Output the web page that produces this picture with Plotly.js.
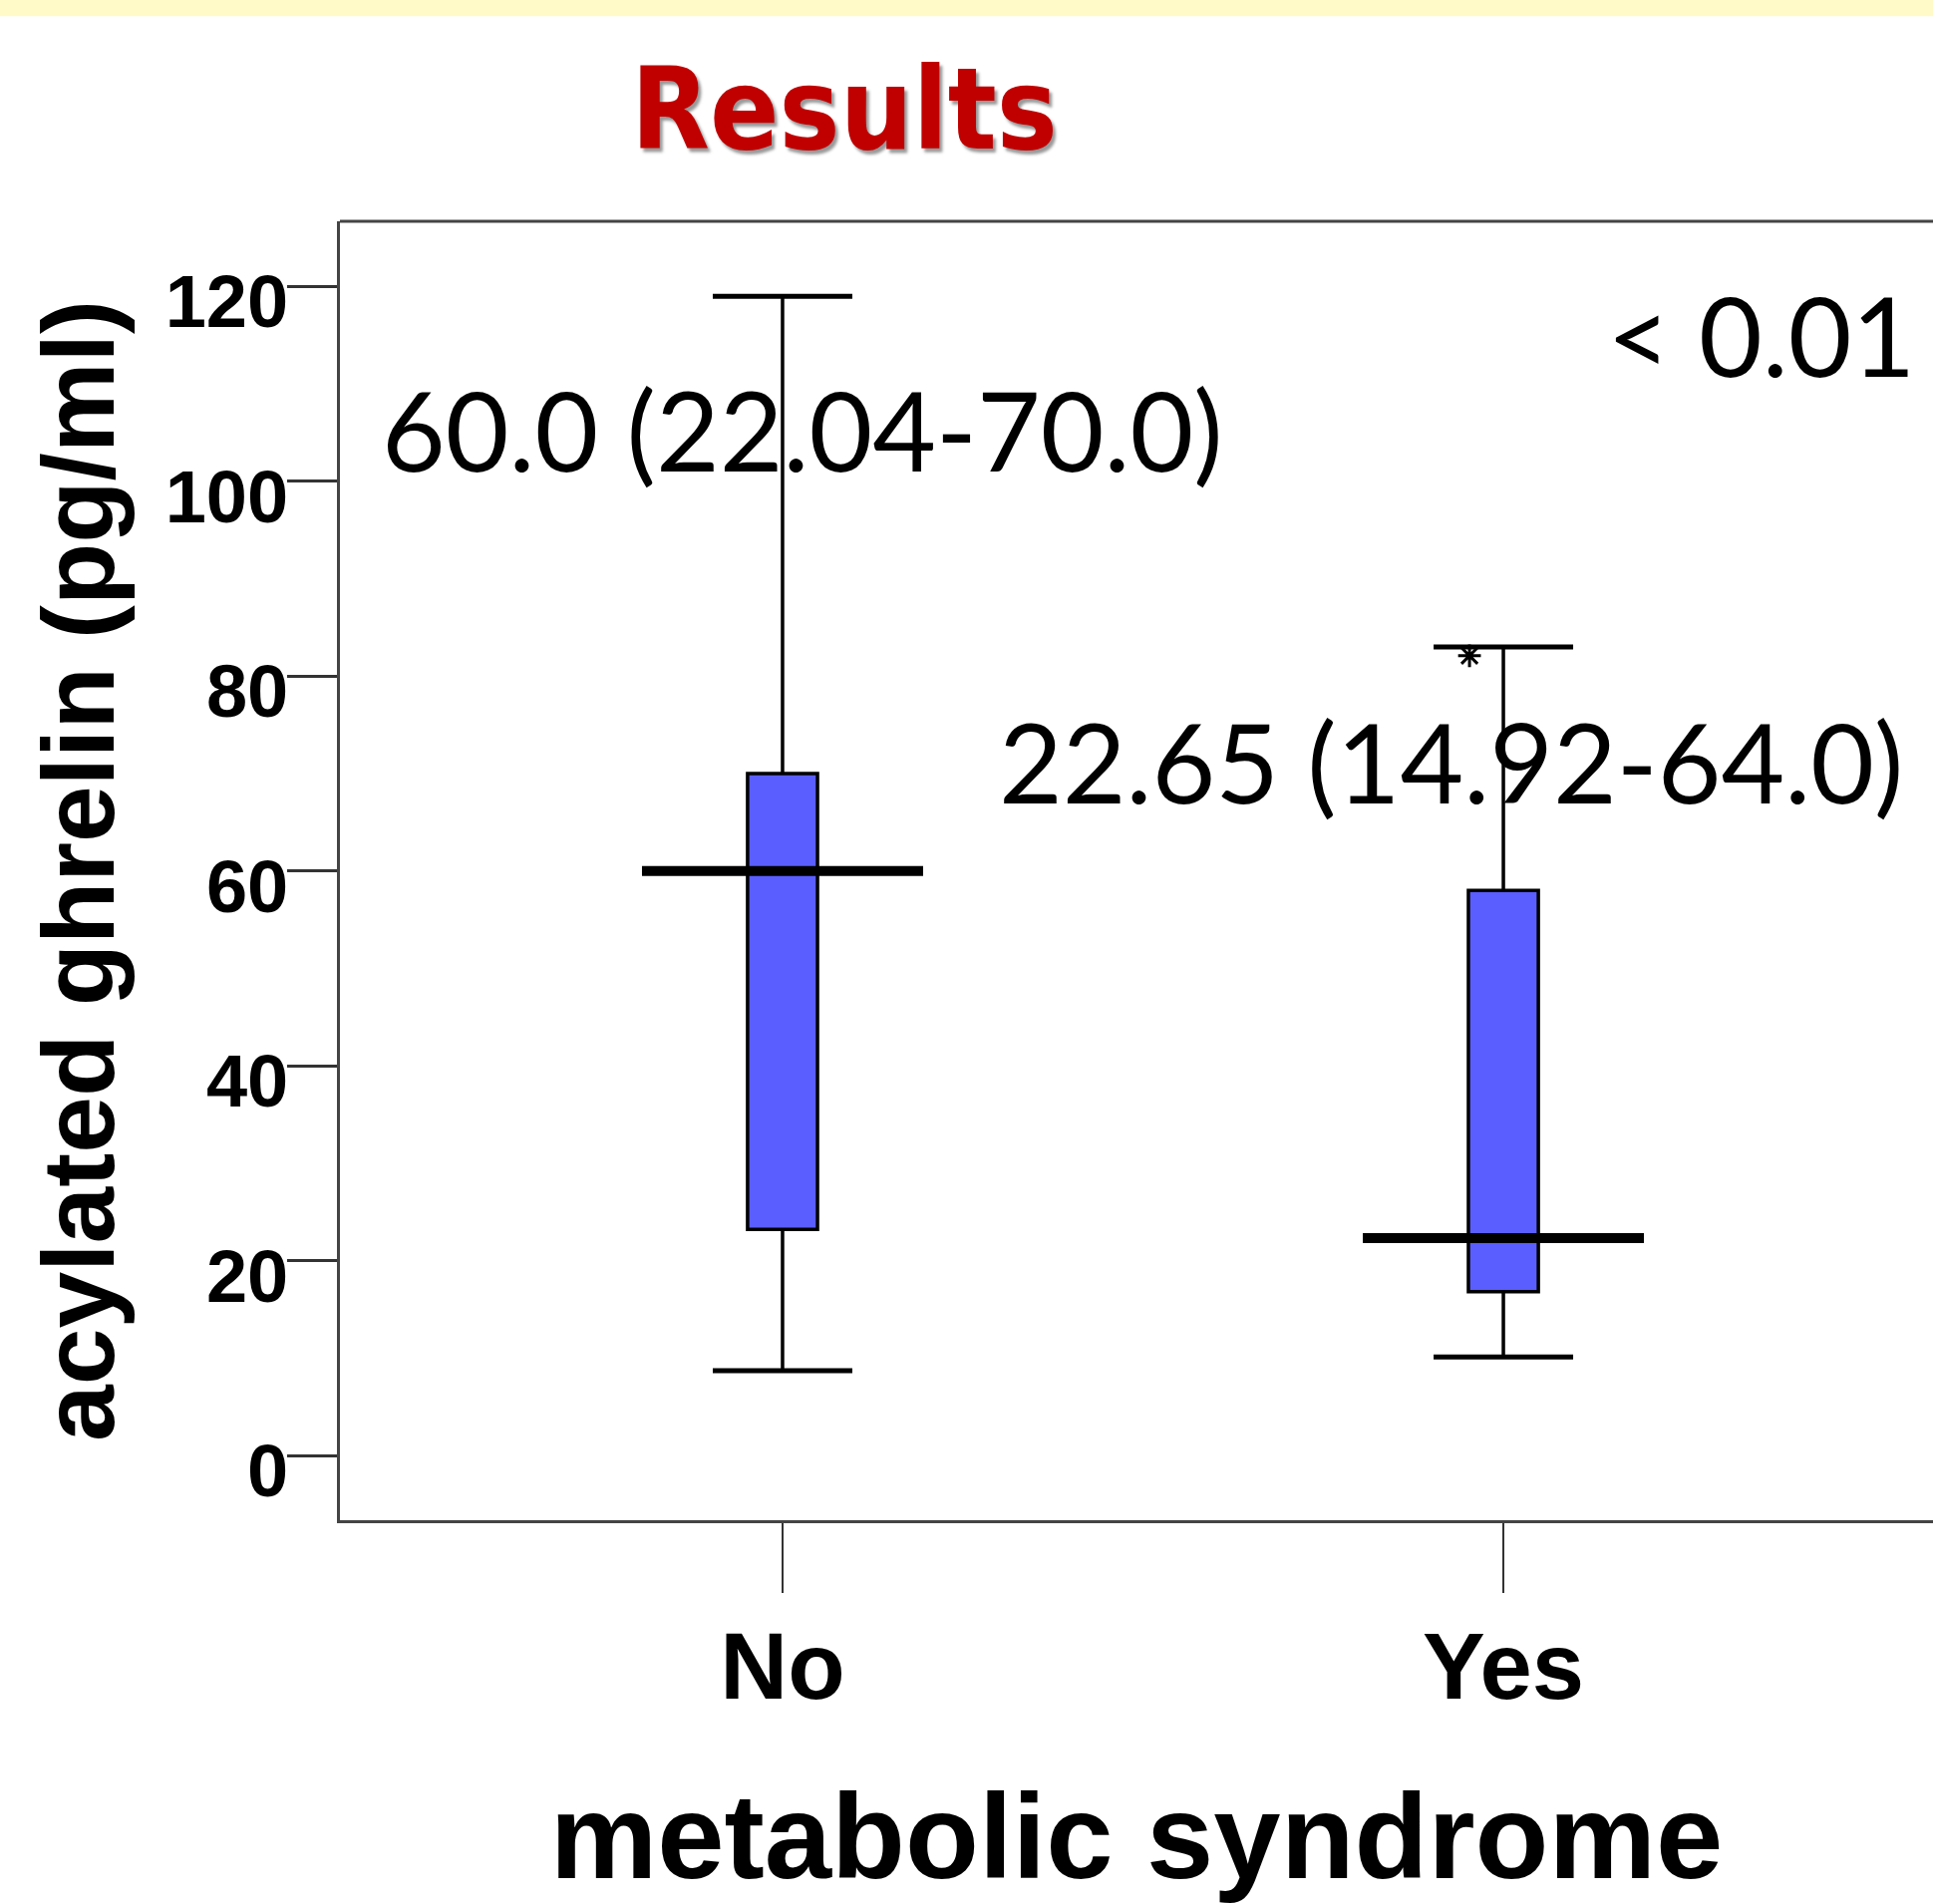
<!DOCTYPE html>
<html>
<head>
<meta charset="utf-8">
<script src="https://cdn.plot.ly/plotly-3.0.1.min.js"></script>
<style>html,body{margin:0;padding:0;background:#fff;}#chart{width:1939px;height:1910px;}</style>
</head>
<body>
<div id="chart"></div>
<script>
// ---- data ----
const groups = ['No', 'Yes'];
const q1 = [23.2, 16.8];
const medians = [60.0, 22.3];
const q3 = [70.0, 58.0];
const lowerWhisker = [8.7, 10.1];
const upperWhisker = [119.0, 83.0];
const outlierGroup = ['Yes'];
const outlierValue = [82.1];
const yTicks = [0, 20, 40, 60, 80, 100, 120];
const medianLabels = ['60.0 (22.04-70.0)', '22.65 (14.92-64.0)'];
const pLabel = '< 0.01';
const chartTitle = 'Results';
const xTitle = 'metabolic syndrome';
const yTitle = 'acylated ghrelin (pg/ml)';

// ---- styling / layout ----
const xpos = groups.map((g, i) => i);
const boxW = 0.097, capHalf = 0.0968, medHalf = 0.195, outlierShift = -0.047;
const arial = 'Liberation Sans, Arial, sans-serif';
const calib = 'Lato, Carlito, Calibri, sans-serif';

const capX = [], capY = [];
xpos.forEach((x, i) => {
  capX.push(x - capHalf, x + capHalf, null, x - capHalf, x + capHalf, null);
  capY.push(upperWhisker[i], upperWhisker[i], null, lowerWhisker[i], lowerWhisker[i], null);
});
const medX = [], medY = [];
xpos.forEach((x, i) => {
  medX.push(x - medHalf, x + medHalf, null);
  medY.push(medians[i], medians[i], null);
});

const traces = [
  {
    type: 'box', x: xpos, q1: q1, median: medians, q3: q3,
    lowerfence: lowerWhisker, upperfence: upperWhisker,
    width: boxW, whiskerwidth: 0, boxpoints: false,
    fillcolor: '#5A5EFF', line: {color: '#000', width: 3.5},
    hoverinfo: 'skip', showlegend: false
  },
  {
    type: 'scatter', mode: 'lines', x: capX, y: capY,
    line: {color: '#000', width: 5}, hoverinfo: 'skip', showlegend: false
  },
  {
    type: 'scatter', mode: 'lines', x: medX, y: medY,
    line: {color: '#000', width: 10}, hoverinfo: 'skip', showlegend: false
  },
  {
    type: 'scatter', mode: 'markers',
    x: outlierGroup.map(g => groups.indexOf(g) + outlierShift), y: outlierValue,
    marker: {symbol: 'asterisk-open', size: 19, color: '#000', line: {color: '#000', width: 3}},
    hoverinfo: 'skip', showlegend: false
  }
];

const layout = {
  width: 1939, height: 1910,
  margin: {l: 341, r: 0, t: 222, b: 385, pad: 0},
  paper_bgcolor: '#fff', plot_bgcolor: '#fff',
  showlegend: false,
  title: {
    text: chartTitle, xref: 'container', yref: 'container',
    x: 0.4368, xanchor: 'center', y: 0.943, yanchor: 'middle',
    font: {family: 'DejaVu Sans Condensed, Liberation Sans, sans-serif', weight: 700, size: 114, color: '#C00000', shadow: '3px 4px 3px #999'}
  },
  xaxis: {
    range: [-0.614, 1.596], tickvals: xpos, ticktext: groups,
    ticks: 'outside', ticklen: 70, tickwidth: 2.5, tickcolor: '#333',
    showline: true, linewidth: 3, linecolor: '#444',
    showgrid: false, zeroline: false,
    ticklabelstandoff: -7,
    tickfont: {family: arial, weight: 700, size: 94, color: '#000'},
    title: {text: xTitle, font: {family: arial, weight: 700, size: 121, color: '#000'}, standoff: 89}
  },
  yaxis: {
    range: [-6.65, 126.7], tickvals: yTicks,
    ticks: 'outside', ticklen: 50, tickwidth: 3, tickcolor: '#333',
    showline: true, linewidth: 3, linecolor: '#444',
    showgrid: false, zeroline: false,
    ticklabelshift: 15, ticklabelstandoff: -16,
    tickfont: {family: arial, weight: 700, size: 74, color: '#000'},
    title: {text: yTitle, font: {family: arial, weight: 700, size: 102, color: '#000'}, standoff: 18}
  },
  shapes: [
    {type: 'rect', xref: 'paper', yref: 'paper', x0: -0.3, x1: 1.1, y0: 1.158, y1: 1.25,
     fillcolor: '#FFFAC8', line: {width: 0}, layer: 'above'},
    {type: 'line', xref: 'paper', yref: 'paper', x0: 0, x1: 1.05, y0: 1, y1: 1,
     line: {color: '#444', width: 3}}
  ],
  annotations: [
    {x: 0.028, y: 105.4, xref: 'x', yref: 'y', text: medianLabels[0], showarrow: false,
     xanchor: 'center', yanchor: 'middle', font: {family: calib, size: 110, color: '#000'}},
    {x: 0.928, y: 71.3, xref: 'x', yref: 'y', text: medianLabels[1], showarrow: false,
     xanchor: 'center', yanchor: 'middle', font: {family: calib, size: 110, color: '#000'}},
    {x: 1.357, y: 115.1, xref: 'x', yref: 'y', text: pLabel, showarrow: false,
     xanchor: 'center', yanchor: 'middle', font: {family: calib, size: 110, color: '#000'}}
  ]
};

Plotly.newPlot('chart', traces, layout, {displayModeBar: false, staticPlot: true});
</script>
</body>
</html>
